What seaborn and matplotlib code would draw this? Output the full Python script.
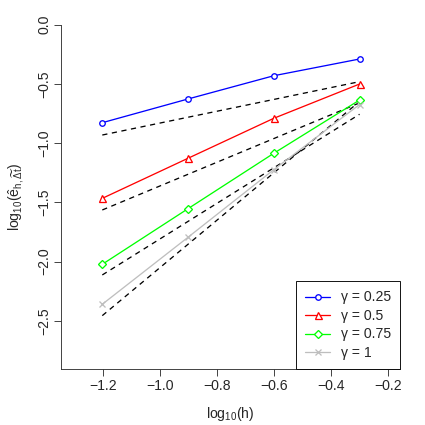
import matplotlib
matplotlib.use("Agg")
import matplotlib.pyplot as plt
import seaborn as sns

# log10 of mesh size h = 1/16, 1/8, 1/4, 1/2
log_h = [-1.204, -0.903, -0.602, -0.301]

# log10 errors per gamma
err_025 = [-0.828, -0.628, -0.432, -0.291]
err_05 = [-1.466, -1.128, -0.791, -0.502]
err_075 = [-2.022, -1.553, -1.086, -0.637]
err_1 = [-2.359, -1.794, -1.224, -0.675]
gamma_labels = ["γ = 0.25", "γ = 0.5", "γ = 0.75", "γ = 1"]

# dashed reference lines (values at first and last h)
ref_x = [-1.204, -0.301]
ref_025 = [-0.932, -0.482]
ref_05 = [-1.564, -0.661]
ref_075 = [-2.112, -0.757]
ref_1 = [-2.455, -0.649]

sns.set_theme(style="ticks")
plt.rcParams["font.family"] = ["Liberation Sans", "DejaVu Sans"]
plt.rcParams["mathtext.fontset"] = "custom"
plt.rcParams["mathtext.rm"] = "Liberation Sans"
plt.rcParams["mathtext.it"] = "Liberation Sans"
plt.rcParams["mathtext.bf"] = "Liberation Sans:bold"

W = 425
fig = plt.figure(figsize=(W / 72, W / 72), dpi=72)
ax = fig.add_axes([60.7 / W, 1 - 369 / W, (400 - 60.7) / W, (369 - 24.5) / W])

series = [err_025, err_05, err_075, err_1]
colors = ["#0000FF", "#FF0000", "#00FF00", "#BEBEBE"]
markers = ["o", "^", "D", "x"]
msizes = [5.5, 7, 6, 6.5]

for ys in [ref_025, ref_05, ref_075, ref_1]:
    sns.lineplot(x=ref_x, y=ys, ax=ax, color="black", linewidth=1.3,
                 dashes=False, linestyle=(0, (4, 3.5)))

for ys, c, m, ms, lab in zip(series, colors, markers, msizes, gamma_labels):
    sns.lineplot(x=log_h, y=ys, ax=ax, color=c, linewidth=1.3, marker=m,
                 markersize=ms, markerfacecolor="white", markeredgecolor=c,
                 markeredgewidth=1.3, label=lab)

ax.set_xlim(-1.35, -0.159)
ax.set_ylim(-2.905, 0.0)
ax.set_xticks([-1.2, -1.0, -0.8, -0.6, -0.4, -0.2])
ax.set_yticks([-2.5, -2.0, -1.5, -1.0, -0.5, 0.0])
ax.set_yticklabels(["−2.5", "−2.0", "−1.5", "−1.0", "−0.5", "0.0"])
ax.set_xticklabels(["−1.2", "−1.0", "−0.8", "−0.6", "−0.4", "−0.2"])
ax.tick_params(axis="both", length=7, width=0.9, labelsize=14, pad=3,
               color="#333333")
ax.tick_params(axis="y", labelrotation=90, pad=2.5)
for t in ax.get_yticklabels():
    t.set_va("center")

for side in ["top", "right"]:
    ax.spines[side].set_visible(False)
for side in ["left", "bottom"]:
    ax.spines[side].set_linewidth(0.9)
    ax.spines[side].set_color("#333333")

ax.set_xlabel(r"$\mathrm{log}_{10}(h)$", fontsize=14, labelpad=12)
ax.set_ylabel(r"$\mathrm{log}_{10}(\hat{e}_{h,\widetilde{\Delta t}})$",
              fontsize=14, labelpad=11)

leg = ax.legend(loc="lower right", borderaxespad=0, fancybox=False,
                edgecolor="black", framealpha=1, fontsize=14,
                handlelength=1.8, handletextpad=0.75, borderpad=0.65,
                labelspacing=0.32)
leg.get_frame().set_linewidth(0.9)

fig.savefig("out.png", dpi=72, facecolor="white")
